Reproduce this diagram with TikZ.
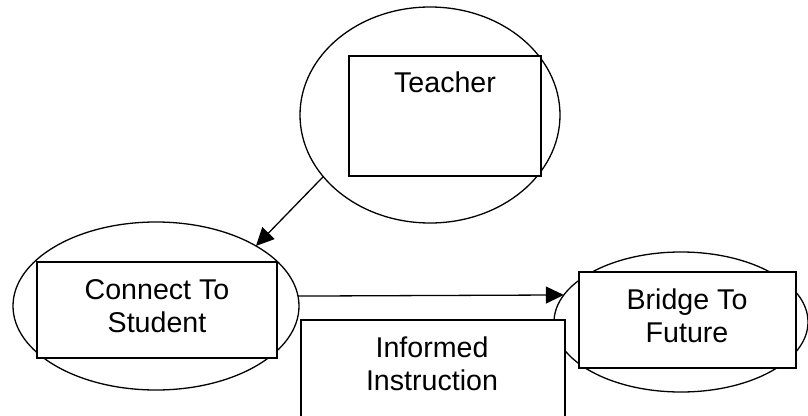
\documentclass[tikz,border=0pt]{standalone}
\usepackage{fontspec}
\setmainfont{Liberation Sans}
\usetikzlibrary{shapes.geometric,arrows.meta}
\begin{document}
\begin{tikzpicture}[x=1pt,y=-1pt,line width=1.3pt,
  oval/.style={draw,ellipse,inner sep=0pt,outer sep=0pt},
  box/.style={draw,fill=white,rectangle,inner sep=0pt,outer sep=0pt},
  lbl/.style={align=center,inner sep=0pt,font=\fontsize{28.6}{33}\selectfont},
  arr/.style={-{Triangle[length=18pt,width=17pt]}}]
\useasboundingbox (0,0) rectangle (808,415);
\clip (0,0) rectangle (808,415);
% ellipses
\node[oval,minimum width=260pt,minimum height=216pt] (teacherO) at (430,115) {};
\node[oval,minimum width=286pt,minimum height=168pt] (connectO) at (156,306) {};
\node[oval,minimum width=254pt,minimum height=140pt] (bridgeO) at (681,322) {};
% boxes
\node[box,minimum width=192pt,minimum height=120pt] (teacherB) at (445,116) {};
\node[box,minimum width=240pt,minimum height=96pt] (connectB) at (157,310) {};
\node[box,minimum width=217pt,minimum height=96pt] (bridgeB) at (687.5,320) {};
\node[box,minimum width=264pt,minimum height=120pt] (informedB) at (433,380) {};
% texts
\node[lbl] (teacherT) at (445,82) {Teacher};
\node[lbl] (connectT) at (157,306) {Connect To\\Student};
\node[lbl] (bridgeT) at (687,316) {Bridge To\\Future};
\node[lbl] (informedT) at (432,364) {Informed\\Instruction};
% arrows
\draw[arr] (teacherO.210) -- (connectO.31.5);
\draw[arr] (connectO.4) -- (bridgeO.167.6);
\end{tikzpicture}
\end{document}
